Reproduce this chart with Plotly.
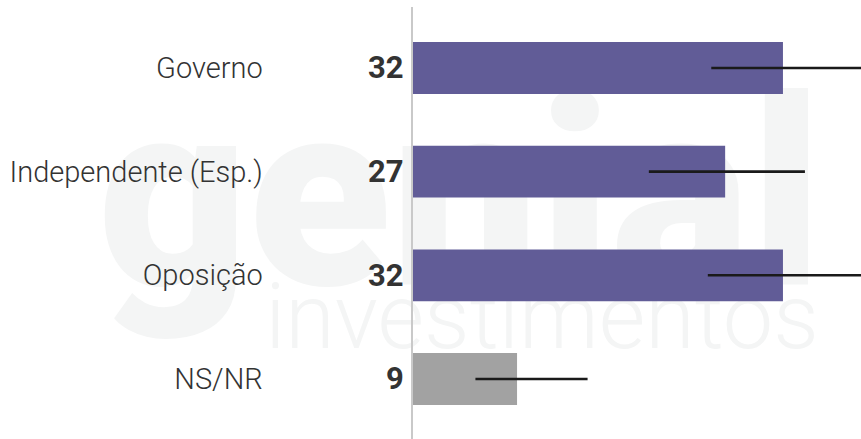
import plotly.graph_objects as go

categories = ["Governo", "Independente (Esp.)", "Oposição", "NS/NR"]
values = [32, 27, 32, 9]
ci_low = [25.8, 20.4, 25.5, 5.4]
ci_high = [40.0, 33.9, 40.0, 15.1]
bar_colors = ["#615c97", "#615c97", "#615c97", "#a2a2a2"]

err_plus = [h - v for h, v in zip(ci_high, values)]
err_minus = [v - l for v, l in zip(values, ci_low)]

fig = go.Figure()
fig.add_trace(go.Bar(
    y=categories, x=values, orientation="h",
    marker=dict(color=bar_colors, line=dict(width=0)),
    error_x=dict(type="data", symmetric=False, array=err_plus, arrayminus=err_minus,
                 color="#1a1a1a", thickness=2.6, width=0),
    hoverinfo="skip",
))

annotations = []
for c, v in zip(categories, values):
    annotations.append(dict(
        x=0, y=c, xref="x", yref="y", text=str(v), showarrow=False,
        xanchor="right", yanchor="middle", xshift=-7,
        font=dict(family="Roboto", size=31, color="#333333", weight=700),
    ))

W, H = 861, 439
L, T = 413, 7
pw, ph = W - L, H - T


def px(xp):
    return (xp - L) / pw


def py(yp):
    return (H - yp) / ph


shapes = [
    dict(type="rect", xref="paper", yref="paper", layer="below",
         x0=px(95), x1=px(825), y0=py(287), y1=py(65),
         line=dict(width=0), fillcolor="rgba(0,0,0,0)",
         label=dict(text="genial", textposition="middle center",
                    font=dict(family="Roboto", size=262, color="#f4f5f5", weight=900))),
    dict(type="rect", xref="paper", yref="paper", layer="below",
         x0=px(262), x1=px(822), y0=py(348), y1=py(272),
         line=dict(width=0), fillcolor="rgba(0,0,0,0)",
         label=dict(text="investimentos", textposition="middle center",
                    font=dict(family="Roboto", size=90, color="#f4f5f5", weight=300))),
]

fig.update_layout(
    width=W, height=H,
    margin=dict(l=L, r=0, t=T, b=0, pad=0),
    paper_bgcolor="white", plot_bgcolor="rgba(0,0,0,0)",
    showlegend=False,
    bargap=0.5,
    xaxis=dict(range=[0, 38.75], visible=False, fixedrange=True),
    yaxis=dict(
        categoryorder="array", categoryarray=categories,
        range=[3.579, -0.588],
        showline=True, linecolor="#c9c9c9", linewidth=2.5,
        showgrid=False, zeroline=False, ticks="",
        ticklabelstandoff=142,
        tickfont=dict(family="Roboto", size=29, color="#333333", weight=300),
    ),
    annotations=annotations,
    shapes=shapes,
)

fig.write_html(
    "out.html",
    config={"displayModeBar": False, "staticPlot": True},
    post_script="document.body.style.margin='0';document.body.style.overflow='hidden';",
)
